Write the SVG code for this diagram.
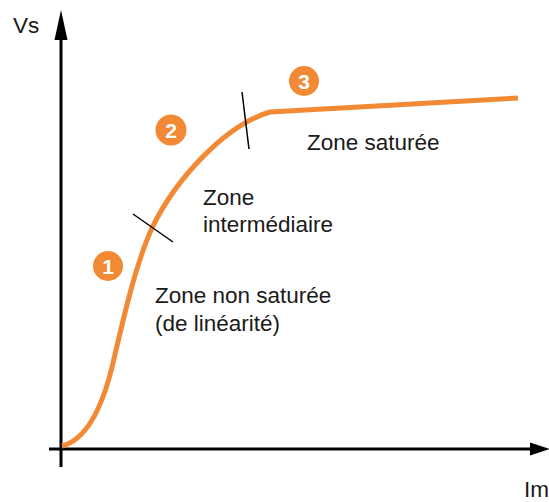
<svg xmlns="http://www.w3.org/2000/svg" width="549" height="502" viewBox="0 0 549 502">
<style>
.lbl{font-family:"Liberation Sans",Arial,sans-serif;font-size:22.5px;fill:#1a1a1a}
.num{font-family:"Liberation Sans",Arial,sans-serif;font-size:21px;font-weight:bold;fill:#fff;text-anchor:middle}
.axis{stroke:#000;stroke-width:3;fill:none}
.tick{stroke:#000;stroke-width:1.5;fill:none}
.badge{fill:#F28A35}
</style>
<rect width="549" height="502" fill="#fff"/>
<g id="axes">
<line class="axis" x1="61" y1="467" x2="61" y2="36"/>
<polygon points="61,10 54.5,40 67.5,40" fill="#000"/>
<line class="axis" x1="49" y1="449" x2="533" y2="449"/>
<polygon points="550,449 530,442.5 530,455.5" fill="#000"/>
<text class="lbl" x="13" y="33">Vs</text>
<text class="lbl" x="524" y="497">Im</text>
</g>
<g id="connectors">
<path d="M62,446 C85,440 102,410 113,363 C122,325 135,265 152,228 C175,180 225,125 270,112 L518,98" fill="none" stroke="#F28A35" stroke-width="5" stroke-linejoin="round"/>
<line class="tick" x1="133" y1="214" x2="173" y2="242"/>
<line class="tick" x1="242" y1="92" x2="249" y2="149"/>
</g>
<g id="badge1"><circle class="badge" cx="108" cy="266" r="15"/><text class="num" x="108" y="273.5">1</text></g>
<g id="badge2"><circle class="badge" cx="171" cy="130" r="15.5"/><text class="num" x="171" y="137.5">2</text></g>
<g id="badge3"><circle class="badge" cx="304" cy="81" r="15"/><text class="num" x="304" y="88.5">3</text></g>
<g id="zone1"><text class="lbl" x="155" y="303">Zone non saturée</text><text class="lbl" x="155" y="331">(de linéarité)</text></g>
<g id="zone2"><text class="lbl" x="203" y="205">Zone</text><text class="lbl" x="203" y="232">intermédiaire</text></g>
<g id="zone3"><text class="lbl" x="307" y="150">Zone saturée</text></g>
</svg>
